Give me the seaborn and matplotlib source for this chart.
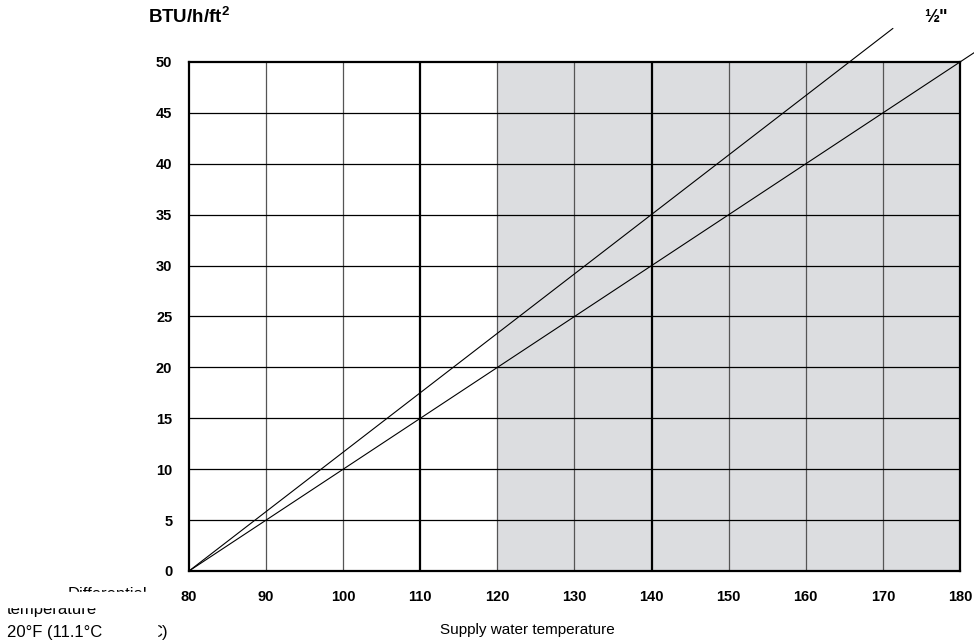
import matplotlib.pyplot as plt
import matplotlib.patches as mpatches
import pandas as pd
import seaborn as sns
import numpy as np

sns.set_style('white')
plt.rcParams['font.family'] = ['Liberation Sans', 'DejaVu Sans']
plt.rcParams['text.color'] = 'black'
plt.rcParams['xtick.color'] = 'black'
plt.rcParams['ytick.color'] = 'black'
plt.rcParams['mathtext.fontset'] = 'custom'
plt.rcParams['mathtext.bf'] = 'Liberation Sans:bold'
plt.rcParams['mathtext.rm'] = 'Liberation Sans'

# Data: heat output vs supply water temperature
supply_temp = [80, 171.3]
output_half = [0, 53.3]          # 1/2" line
supply_temp_2 = [80, 182]
output_other = [0, 51.0]         # second line (label cut off)

x_ticks = [80, 90, 100, 110, 120, 130, 140, 150, 160, 170, 180]
y_ticks = [0, 5, 10, 15, 20, 25, 30, 35, 40, 45, 50]
heavy_x = [110, 140]
shade_from = 120

df = pd.concat([
    pd.DataFrame({'temp': supply_temp, 'btu': output_half, 'pipe': 'half'}),
    pd.DataFrame({'temp': supply_temp_2, 'btu': output_other, 'pipe': 'other'}),
])

fig = plt.figure(figsize=(9.74, 6.43), dpi=100)
ax = fig.add_axes([189 / 974, 1 - 571 / 643, (960 - 189) / 974, (571 - 62) / 643])

# shaded region
ax.axvspan(shade_from, 180, color='#dcdde0', zorder=0, lw=0)

# grid
for x in x_ticks[1:-1]:
    if x in heavy_x:
        ax.axvline(x, color='black', lw=1.6, zorder=1)
    else:
        ax.axvline(x, color='#555555', lw=0.9, zorder=1)
for y in y_ticks[1:-1]:
    ax.axhline(y, color='black', lw=0.9, zorder=1)

sns.lineplot(data=df, x='temp', y='btu', units='pipe', estimator=None,
             color='black', lw=0.8, ax=ax, legend=False, zorder=3)
for ln in ax.lines[-2:]:
    ln.set_clip_on(False)

ax.set_xlim(80, 180)
ax.set_ylim(0, 50)
ax.set_xticks(x_ticks)
ax.set_yticks(y_ticks)
ax.tick_params(length=0, labelsize=10.5, pad=14)
ax.tick_params(axis='y', pad=12)
for lab in ax.get_xticklabels() + ax.get_yticklabels():
    lab.set_fontweight('bold')
for s in ax.spines.values():
    s.set_color('black')
    s.set_linewidth(1.6)
    s.set_visible(True)
ax.set_xlabel('')
ax.set_ylabel('')

fig.text(148 / 974, 1 - 17 / 643, r'BTU/h/ft$^{\mathbf{2}}$', fontsize=13.5,
         fontweight='bold', va='center', ha='left')
fig.text(936 / 974, 1 - 18 / 643, '½"', fontsize=13, fontweight='bold',
         va='center', ha='center')
fig.text(527 / 974, 1 - 630 / 643, 'Supply water temperature', fontsize=11,
         va='center', ha='center')

# differential temperature note (partly clipped in the original)
fig.text(68 / 974, 1 - 599 / 643, 'Differential', fontsize=12,
         va='baseline', ha='left')
fig.text(7 / 974, 1 - 614 / 643, 'temperature', fontsize=12,
         va='baseline', ha='left')
fig.text(7 / 974, 1 - 637 / 643, '20°F (11.1°C', fontsize=12,
         va='baseline', ha='left')
fig.text(150 / 974, 1 - 637 / 643, 'C)', fontsize=12,
         va='baseline', ha='left')
fig.patches.append(mpatches.Rectangle((0, 1 - 607 / 643), 160 / 974, 15 / 643,
                                      transform=fig.transFigure, color='white',
                                      zorder=5))
fig.patches.append(mpatches.Rectangle((140 / 974, 1 - 643 / 643), 17 / 974, 25 / 643,
                                      transform=fig.transFigure, color='white',
                                      zorder=5))

fig.savefig('out.png', dpi=100)
